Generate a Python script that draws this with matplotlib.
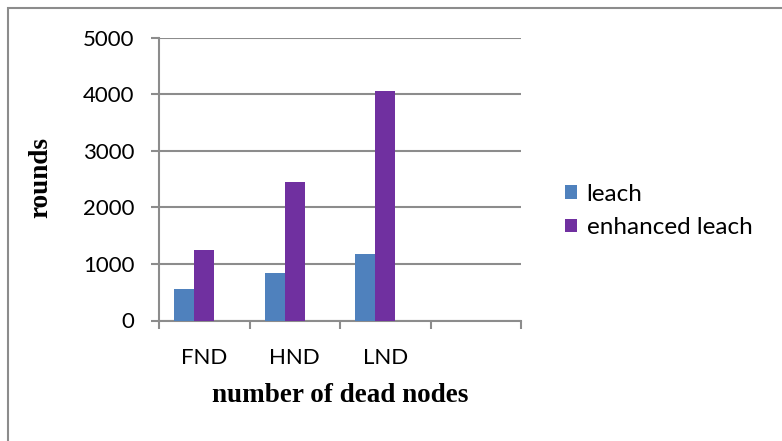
import numpy as np
import matplotlib.pyplot as plt
from matplotlib.patches import Rectangle

categories = ["FND", "HND", "LND", ""]
leach = [560, 840, 1180]
enhanced_leach = [1250, 2440, 4050]
yticks = [0, 1000, 2000, 3000, 4000, 5000]

blue = "#4F81BD"
purple = "#7030A0"
grey = "#8C8C8C"

fig = plt.figure(figsize=(7.82, 4.41), dpi=100)
ax = fig.add_axes([159 / 782, 1 - 320.5 / 441, 362 / 782, 283 / 441])

# excel leaves room for a third (empty) series, so groups sit left of centre
w = 0.2215
x = np.arange(len(leach))
ax.bar(x - w, leach, width=w, color=blue, label="leach", zorder=3)
ax.bar(x, enhanced_leach, width=w, color=purple, label="enhanced leach", zorder=3)

ax.set_xlim(-0.5, len(categories) - 0.5)
ax.set_ylim(0, 5000)
ax.set_yticks(yticks)
ax.yaxis.grid(True, color=grey, linewidth=1.5, zorder=0)

ax.set_xticks(np.arange(len(categories)))
ax.set_xticklabels(categories)
ax.set_xticks(np.arange(len(categories) + 1) - 0.5, minor=True)
ax.tick_params(axis="x", which="major", length=0, pad=20)
ax.tick_params(axis="x", which="minor", length=5.5, width=1.5, color=grey)
ax.tick_params(axis="y", length=5.5, width=1.5, color=grey, pad=12)

for side in ["top", "right"]:
    ax.spines[side].set_visible(False)
for side in ["left", "bottom"]:
    ax.spines[side].set_color(grey)
    ax.spines[side].set_linewidth(1.5)

for lbl in ax.get_xticklabels() + ax.get_yticklabels():
    lbl.set_fontfamily("Lato")
    lbl.set_fontsize(16)

ax.set_xlabel("number of dead nodes", family="Liberation Serif",
              fontweight="bold", fontsize=19.5)
ax.set_ylabel("rounds", family="Liberation Serif",
              fontweight="bold", fontsize=19.5)
ax.yaxis.set_label_coords(-106 / 362, 0.505)
ax.xaxis.set_label_coords(0.5, -63 / 283)

fig.legend(loc="center left", bbox_to_anchor=(555 / 782, 1 - 211 / 441),
           frameon=False, prop={"family": "Lato", "size": 17.5},
           handlelength=0.5, handleheight=0.5, handletextpad=0.4,
           labelspacing=0.5, borderaxespad=0)

# chart border
fig.add_artist(Rectangle((8 / 782, -0.05), 1, 1 - 8 / 441 + 0.05,
                         transform=fig.transFigure, fill=False,
                         edgecolor=grey, linewidth=1.5))

fig.savefig("out.png", dpi=100)
